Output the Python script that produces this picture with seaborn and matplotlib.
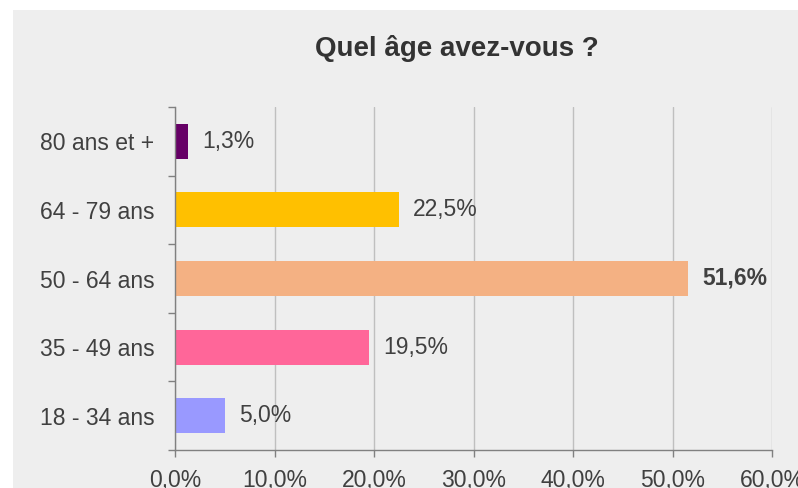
import matplotlib
matplotlib.use("Agg")
import matplotlib.pyplot as plt
from matplotlib.patches import Rectangle
from matplotlib.ticker import FixedLocator, FuncFormatter
import pandas as pd
import seaborn as sns

# data (top to bottom)
categories = ["80 ans et +", "64 - 79 ans", "50 - 64 ans", "35 - 49 ans", "18 - 34 ans"]
values = [1.3, 22.5, 51.6, 19.5, 5.0]
colors = ["#660066", "#FFC000", "#F4B183", "#FF6699", "#9999FF"]
x_ticks = [0, 10, 20, 30, 40, 50, 60]

df = pd.DataFrame({"age": categories, "pct": values})

sns.set_theme(style="white")
plt.rcParams["font.family"] = ["Liberation Sans", "DejaVu Sans"]
text_col = "#404040"
panel_col = "#eeeeee"

fig = plt.figure(figsize=(7.98, 4.88), dpi=100)
fig.patch.set_facecolor("white")
# grey panel behind the chart
fig.patches.append(Rectangle((13 / 798, 0), 1, 1 - 10 / 488, transform=fig.transFigure,
                             facecolor=panel_col, edgecolor="none", zorder=-10))

ax = fig.add_axes([175.3 / 798, 1 - 450 / 488, (772 - 175.3) / 798, (450 - 107) / 488])
ax.set_facecolor(panel_col)
ax.set_zorder(5)

sns.barplot(data=df, x="pct", y="age", hue="age", palette=colors, order=categories,
            legend=False, width=0.51, saturation=1, linewidth=0, ax=ax)

ax.set_xlim(0, 60)
ax.set_ylim(4.5, -0.5)
ax.xaxis.set_major_locator(FixedLocator(x_ticks))
ax.xaxis.set_major_formatter(FuncFormatter(lambda v, p: f"{v:.1f}%".replace(".", ",")))
ax.grid(axis="x", color="#bfbfbf", linewidth=1)
ax.set_axisbelow(True)

# category boundaries get the tick marks, labels sit in the middle
ax.yaxis.set_major_locator(FixedLocator([i - 0.5 for i in range(len(categories) + 1)]))
ax.yaxis.set_major_formatter(FuncFormatter(lambda v, p: ""))
ax.yaxis.set_minor_locator(FixedLocator(list(range(len(categories)))))
ax.set_yticklabels(categories, minor=True)
ax.tick_params(axis="y", which="major", length=5, width=1, color="#808080", left=True)
ax.tick_params(axis="y", which="minor", length=0, pad=15, labelsize=16.5, labelcolor=text_col)
ax.tick_params(axis="x", length=5, width=1, color="#808080", bottom=True, pad=9,
               labelsize=16.5, labelcolor=text_col)

for s in ["top", "right"]:
    ax.spines[s].set_visible(False)
for s in ["left", "bottom"]:
    ax.spines[s].set_color("#808080")
    ax.spines[s].set_linewidth(1)

ax.set_xlabel("")
ax.set_ylabel("")

for cont in ax.containers:
    labels = [f"{b.get_width():.1f}%".replace(".", ",") for b in cont]
    texts = ax.bar_label(cont, labels=labels, padding=10, fontsize=16.5, color=text_col)
    for t, v in zip(texts, [b.get_width() for b in cont]):
        if v == max(values):
            t.set_fontweight("bold")

fig.text(457 / 798, 1 - 48 / 488, "Quel âge avez-vous ?", ha="center", va="center",
         fontsize=20, fontweight="bold", color="#333333")

fig.savefig("out.png", dpi=100, facecolor=fig.get_facecolor())
